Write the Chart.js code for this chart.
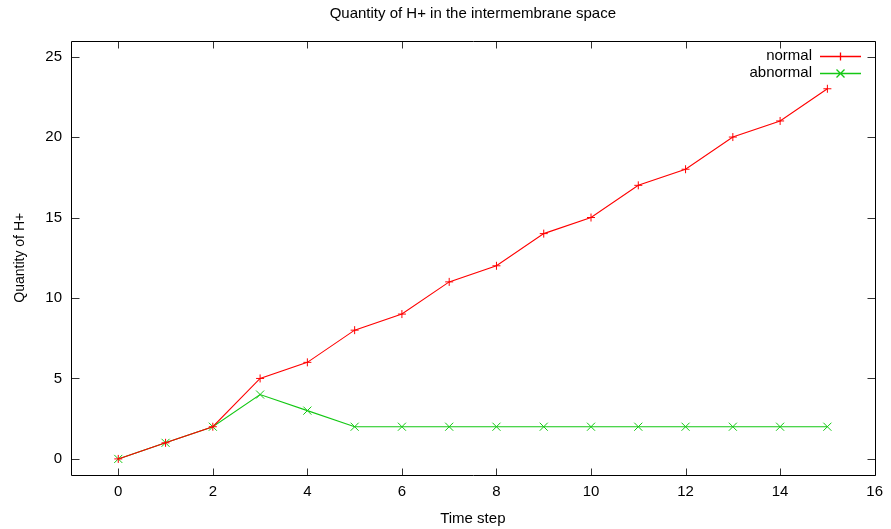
<!DOCTYPE html>
<html>
<head>
<meta charset="utf-8">
<script src="https://cdn.jsdelivr.net/npm/chart.js@4/dist/chart.umd.min.js"></script>
<style>
html,body{margin:0;padding:0;background:#fff;}
#wrap{width:891px;height:529px;position:relative;}
</style>
</head>
<body>
<div id="wrap"><canvas id="c" width="891" height="529"></canvas></div>
<script>
const timeSteps = [0,1,2,3,4,5,6,7,8,9,10,11,12,13,14,15];
const normalValues = [0,1,2,5,6,8,9,11,12,14,15,17,18,20,21,23];
const abnormalValues = [0,1,2,4,3,2,2,2,2,2,2,2,2,2,2,2];
const xTickValues = [0,2,4,6,8,10,12,14,16];
const yTickValues = [0,5,10,15,20,25];
const seriesNames = ['normal','abnormal'];
const titleText = 'Quantity of H+ in the intermembrane space';
const xTitle = 'Time step';
const yTitle = 'Quantity of H+';

const FONT = '"Liberation Sans", Arial, sans-serif';
const RED = '#ff0000';
const GREEN = '#14c814';

function pts(vals){ return timeSteps.map((t,i)=>({x:t,y:vals[i]})); }

const framePlugin = {
  id:'frame',
  afterDatasetsDraw(chart){
    const {ctx, chartArea:a, scales:{x,y}} = chart;
    ctx.save();
    ctx.lineWidth = 1;
    const L = Math.round(a.left)+0.5, R = Math.round(a.right)+0.5, T = Math.round(a.top)+0.5, B = Math.round(a.bottom)+0.5;
    ctx.beginPath();
    xTickValues.forEach(v=>{
      const px = Math.round(x.getPixelForValue(v))+0.5;
      ctx.moveTo(px,B); ctx.lineTo(px,B-7);
      ctx.moveTo(px,T); ctx.lineTo(px,T+7);
    });
    yTickValues.forEach(v=>{
      const py = Math.round(y.getPixelForValue(v))+0.5;
      ctx.moveTo(L,py); ctx.lineTo(L+8,py);
      ctx.moveTo(R,py); ctx.lineTo(R-8,py);
    });
    ctx.strokeStyle = '#333333';
    ctx.stroke();
    ctx.beginPath();
    ctx.strokeStyle = '#000000';
    ctx.rect(L,T,R-L,B-T);
    ctx.stroke();
    // title centred over the plot area
    ctx.font = '15px ' + FONT;
    ctx.fillStyle = '#000000';
    ctx.textAlign = 'center';
    ctx.textBaseline = 'middle';
    ctx.fillText(titleText, (a.left + a.right) / 2, 14);
    // legend
    ctx.textAlign = 'right';
    const rows = [[seriesNames[0],RED,'plus',56],[seriesNames[1],GREEN,'x',73]];
    rows.forEach(function(row){
      const name=row[0], col=row[1], mk=row[2], yy=row[3];
      ctx.fillText(name, 812, yy);
      ctx.beginPath();
      ctx.strokeStyle = col;
      ctx.lineWidth = 1.3;
      ctx.moveTo(820,yy+0.5); ctx.lineTo(861,yy+0.5);
      const cx=840.5, cy=yy+0.5;
      if(mk==='plus'){ const r=4; ctx.moveTo(cx-r,cy); ctx.lineTo(cx+r,cy); ctx.moveTo(cx,cy-r); ctx.lineTo(cx,cy+r); }
      else { const r=4; ctx.moveTo(cx-r,cy-r); ctx.lineTo(cx+r,cy+r); ctx.moveTo(cx+r,cy-r); ctx.lineTo(cx-r,cy+r); }
      ctx.stroke();
    });
    ctx.restore();
  }
};

new Chart(document.getElementById('c'), {
  type:'line',
  data:{
    datasets:[
      {label:seriesNames[0], data:pts(normalValues), borderColor:RED, backgroundColor:RED, borderWidth:1.1, pointStyle:'cross', pointRadius:4, pointBorderWidth:1, pointBorderColor:RED, tension:0},
      {label:seriesNames[1], data:pts(abnormalValues), borderColor:GREEN, backgroundColor:GREEN, borderWidth:1.1, pointStyle:'crossRot', pointRadius:5.7, pointBorderWidth:1, pointBorderColor:GREEN, tension:0}
    ]
  },
  options:{
    responsive:false,
    animation:false,
    layout:{padding:{left:0,right:13,top:40.5,bottom:0}},
    plugins:{
      legend:{display:false},
      tooltip:{enabled:false},
      title:{display:false}
    },
    scales:{
      x:{type:'linear', min:-1, max:16,
        afterBuildTicks(s){ s.ticks = xTickValues.map(v=>({value:v})); },
        afterFit(s){ s.height = 54; },
        grid:{display:false, drawTicks:false},
        border:{display:false},
        ticks:{color:'#000', padding:8, font:{family:FONT,size:15}, maxRotation:0, autoSkip:false},
        title:{display:true, text:xTitle, color:'#000', font:{family:FONT,size:15}, padding:{top:0,bottom:1}}
      },
      y:{type:'linear', min:-1, max:26,
        afterBuildTicks(s){ s.ticks = yTickValues.map(v=>({value:v})); },
        afterFit(s){ s.width = 71; },
        grid:{display:false, drawTicks:false},
        border:{display:false},
        ticks:{color:'#000', padding:9, font:{family:FONT,size:15}, autoSkip:false},
        title:{display:true, text:yTitle, color:'#000', font:{family:FONT,size:14}, padding:{top:12,bottom:0}}
      }
    }
  },
  plugins:[framePlugin]
});
</script>
</body>
</html>
